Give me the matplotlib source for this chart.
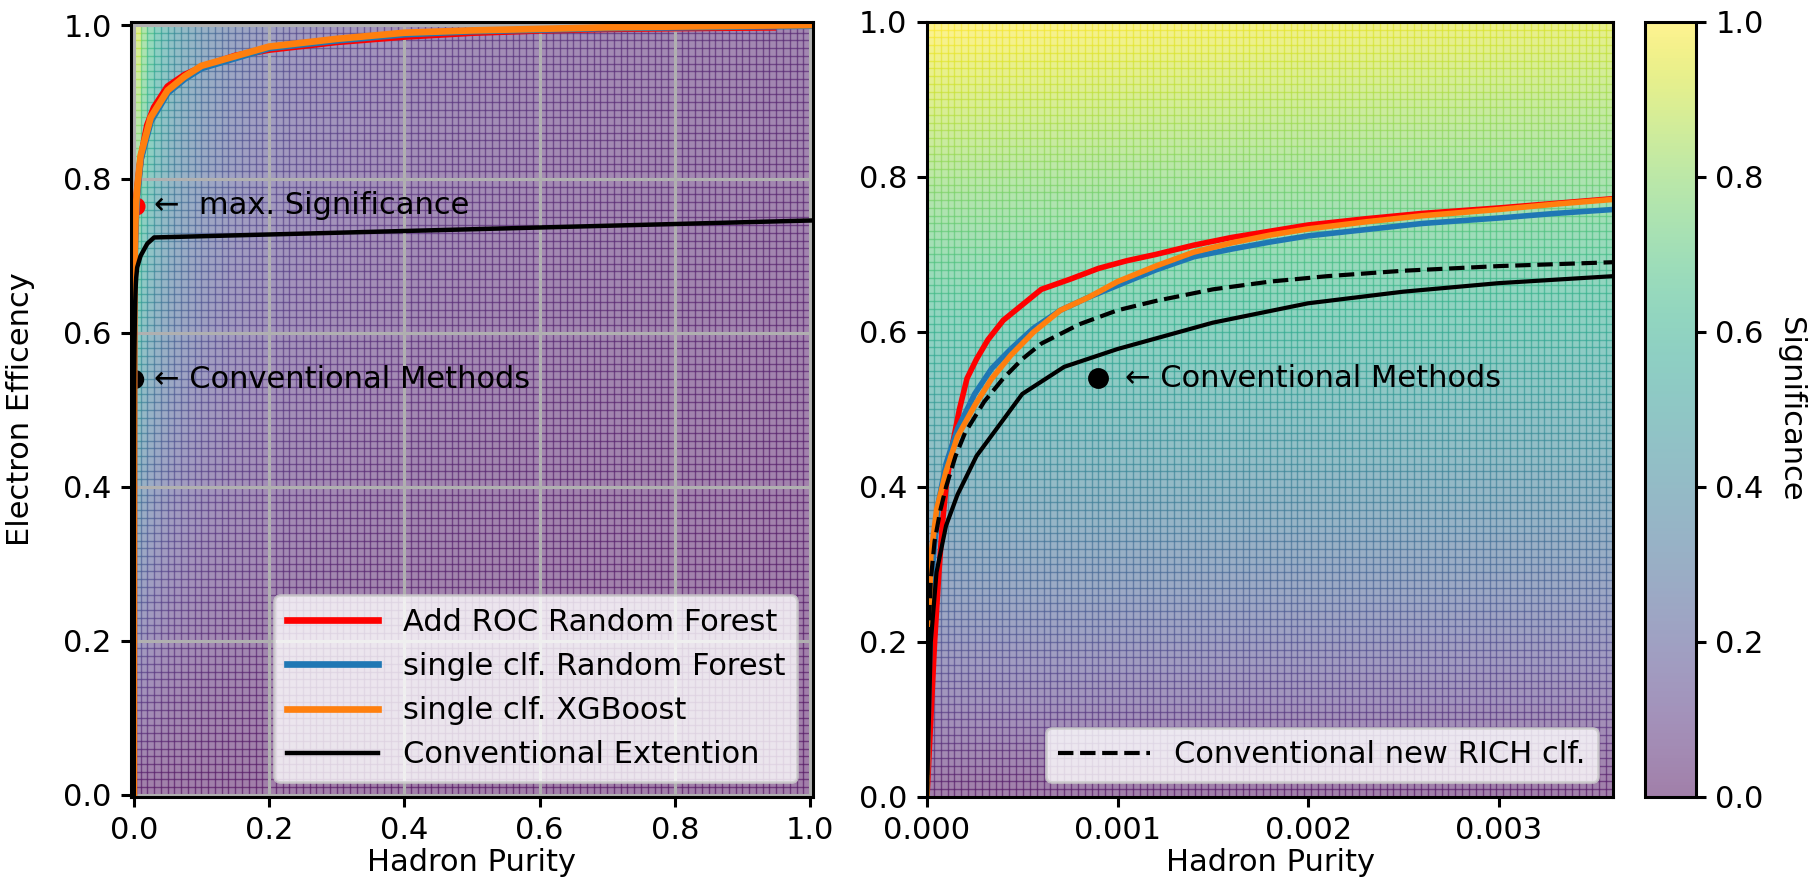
import numpy as np
import matplotlib.pyplot as plt
from matplotlib.collections import LineCollection

plt.rcParams['font.size'] = 11
plt.rcParams['axes.linewidth'] = 1.1
plt.rcParams['xtick.major.width'] = 1.1
plt.rcParams['ytick.major.width'] = 1.1

# ROC-type curves: hadron purity (x) vs electron efficiency (y)
red_x = [0, 0.00002, 0.00004, 0.00006, 0.00008, 0.0001, 0.00013, 0.00017, 0.00021, 0.00026,
         0.00032, 0.0004, 0.0005, 0.0006, 0.00075, 0.0009, 0.00105, 0.0012, 0.0014, 0.0016,
         0.0018, 0.002, 0.0023, 0.0026, 0.003, 0.0033, 0.0036, 0.005, 0.01, 0.02, 0.03, 0.05,
         0.075, 0.1, 0.15, 0.2, 0.3, 0.4, 0.5, 0.6, 0.7, 0.8, 0.945]
red_y = [0, 0.1, 0.2, 0.28, 0.35, 0.40, 0.45, 0.5, 0.54, 0.565,
         0.59, 0.615, 0.635, 0.655, 0.668, 0.682, 0.692, 0.70, 0.712, 0.722,
         0.73, 0.738, 0.746, 0.753, 0.76, 0.766, 0.772, 0.785, 0.825, 0.87, 0.893, 0.92,
         0.935, 0.945, 0.96, 0.968, 0.978, 0.985, 0.99, 0.993, 0.995, 0.996, 0.997]

blue_x = [0, 0.00001, 0.00003, 0.00006, 0.0001, 0.00016, 0.00025, 0.00034, 0.00044, 0.00056,
          0.0007, 0.00085, 0.001, 0.0012, 0.0014, 0.0016, 0.0018, 0.002, 0.0023, 0.0026,
          0.003, 0.0033, 0.0036, 0.005, 0.01, 0.025, 0.05, 0.075, 0.1, 0.2, 0.3, 0.4,
          0.5, 0.7, 1.0]
blue_y = [0, 0.15, 0.3, 0.38, 0.43, 0.475, 0.52, 0.553, 0.578, 0.605,
          0.628, 0.645, 0.66, 0.68, 0.697, 0.707, 0.716, 0.724, 0.732, 0.74,
          0.747, 0.753, 0.758, 0.78, 0.825, 0.875, 0.912, 0.93, 0.944, 0.97, 0.98, 0.988,
          0.992, 0.996, 0.999]

orange_x = [0, 0.00001, 0.00002, 0.00005, 0.0001, 0.00016, 0.00025, 0.00034, 0.00044, 0.00056,
            0.0007, 0.00085, 0.001, 0.0012, 0.0014, 0.0016, 0.0018, 0.002, 0.0023, 0.0026,
            0.003, 0.0033, 0.0036, 0.005, 0.01, 0.025, 0.05, 0.075, 0.1, 0.2, 0.3, 0.4,
            0.5, 0.7, 1.0]
orange_y = [0, 0.2, 0.31, 0.37, 0.42, 0.465, 0.505, 0.54, 0.57, 0.60,
            0.628, 0.645, 0.665, 0.685, 0.703, 0.715, 0.725, 0.733, 0.742, 0.75,
            0.758, 0.765, 0.771, 0.787, 0.83, 0.88, 0.915, 0.933, 0.947, 0.972, 0.982, 0.99,
            0.993, 0.997, 1.0]

conv_x = [0, 0.00002, 0.00005, 0.0001, 0.00016, 0.00026, 0.0005, 0.00072, 0.001, 0.0015,
          0.002, 0.0025, 0.003, 0.0036, 0.005, 0.01, 0.02, 0.03, 1.0]
conv_y = [0, 0.2, 0.29, 0.35, 0.39, 0.44, 0.52, 0.555, 0.578, 0.612,
          0.637, 0.652, 0.663, 0.672, 0.685, 0.70, 0.716, 0.724, 0.746]

rich_x = [0, 0.000005, 0.00001, 0.00002, 0.00004, 0.00007, 0.0001, 0.00015, 0.0002, 0.0003,
          0.0004, 0.0005, 0.0006, 0.0008, 0.001, 0.0012, 0.0015, 0.0018, 0.0021, 0.0025,
          0.003, 0.0036]
rich_y = [0, 0.15, 0.22, 0.28, 0.33, 0.37, 0.40, 0.44, 0.47, 0.51,
          0.54, 0.565, 0.585, 0.61, 0.628, 0.64, 0.655, 0.665, 0.672, 0.679,
          0.685, 0.69]

conv_point = (0.0009, 0.54)
max_sig_point = (0.004, 0.765)

sig_scale = 20.0   # hadron/electron ratio used for the significance background
cmap = plt.get_cmap('viridis')


def significance_mesh(ax, xmax, n=100):
    xe = np.linspace(0, xmax, n + 1)
    ye = np.linspace(0, 1, n + 1)
    xc = 0.5 * (xe[1:] + xe[:-1])
    yc = 0.5 * (ye[1:] + ye[:-1])
    Xc, Yc = np.meshgrid(xc, yc)
    Z = Yc / (1 + sig_scale * Xc)
    mesh = ax.pcolormesh(xe, ye, Z, cmap=cmap, vmin=0, vmax=1, alpha=0.5,
                         shading='flat', linewidth=0, antialiased=False, zorder=1)
    # cell borders, a darker shade of the cell colour
    segs, cols = [], []
    for i in range(n):
        for j in range(n):
            c = cmap(Z[j, i])
            segs.append([(xe[i], ye[j]), (xe[i], ye[j + 1])])
            segs.append([(xe[i], ye[j]), (xe[i + 1], ye[j])])
            cols.append(c)
            cols.append(c)
    lc = LineCollection(segs, colors=cols, linewidths=0.5, alpha=0.55, zorder=1.2)
    ax.add_collection(lc)
    return mesh


fig = plt.figure(figsize=(9.065, 4.48), dpi=200)
ax1 = fig.add_axes([0.0723, 0.1105, 0.376, 0.865])
ax2 = fig.add_axes([0.5113, 0.1105, 0.3784, 0.865])
cax = fig.add_axes([0.9073, 0.1105, 0.0281, 0.865])

############
# left: full range
significance_mesh(ax1, 1.0)
ax1.plot(max_sig_point[0], max_sig_point[1], 'o', color='red', ms=5.5, zorder=2)
ax1.plot(conv_point[0], conv_point[1], 'o', color='black', ms=6, zorder=2)
ax1.plot(red_x, red_y, color='red', lw=2.4, label='Add ROC Random Forest', zorder=2)
ax1.plot(blue_x, blue_y, color='tab:blue', lw=2.4, label='single clf. Random Forest', zorder=2)
ax1.plot(orange_x, orange_y, color='tab:orange', lw=2.4, label='single clf. XGBoost', zorder=2)
ax1.plot(conv_x, conv_y, color='black', lw=1.6, label='Conventional Extention', zorder=2)
ax1.text(0.03, max_sig_point[1], '←  max. Significance', va='center', ha='left')
ax1.text(0.03, conv_point[1], '← Conventional Methods', va='center', ha='left')
ax1.set_xlim(-0.004, 1.004)
ax1.set_ylim(-0.003, 1.004)
ax1.grid(True, color='#b0b0b0', lw=1.1)
ax1.set_axisbelow('line')
ax1.set_xlabel('Hadron Purity', labelpad=1)
ax1.set_ylabel('Electron Efficency', labelpad=10)
ax1.legend(loc='lower right', handlelength=3)

############
# right: zoom to small purity
mesh = significance_mesh(ax2, 0.0036)
ax2.plot(max_sig_point[0], max_sig_point[1], 'o', color='red', ms=5.5)
ax2.plot(red_x, red_y, color='red', lw=2)
ax2.plot(blue_x, blue_y, color='tab:blue', lw=2)
ax2.plot(orange_x, orange_y, color='tab:orange', lw=2)
ax2.plot(conv_x, conv_y, color='black', lw=1.5)
ax2.plot(rich_x, rich_y, color='black', lw=1.5, ls='--', label='Conventional new RICH clf.')
ax2.plot(conv_point[0], conv_point[1], 'o', color='black', ms=6.5)
ax2.text(0.00104, conv_point[1], '← Conventional Methods', va='center', ha='left')
ax2.set_xlim(0, 0.0036)
ax2.set_ylim(0, 1)
ax2.set_xticks([0, 0.001, 0.002, 0.003])
ax2.set_xticklabels(['0.000', '0.001', '0.002', '0.003'])
ax2.set_xlabel('Hadron Purity', labelpad=1)
ax2.legend(loc='lower right', handlelength=3)

cb = fig.colorbar(mesh, cax=cax)
cb.set_label('Significance', rotation=270, labelpad=15)
cb.set_ticks([0, 0.2, 0.4, 0.6, 0.8, 1.0])

plt.savefig('out.png', dpi=200)
